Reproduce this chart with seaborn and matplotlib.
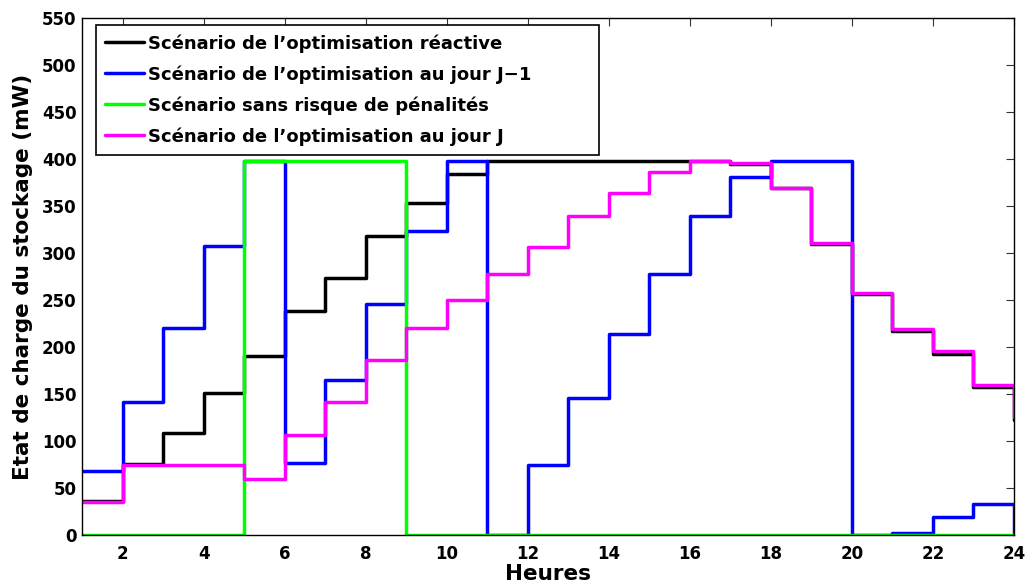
import numpy as np
import pandas as pd
import matplotlib
matplotlib.use("Agg")
import matplotlib.pyplot as plt
import seaborn as sns

sns.set_theme(style="white")
plt.rcParams["font.family"] = ["DejaVu Sans"]
plt.rcParams["font.weight"] = "bold"
for key in ("text.color", "axes.labelcolor", "xtick.labelcolor",
            "ytick.labelcolor"):
    plt.rcParams[key] = "black"

# Hours of the day
hours = list(range(1, 25))

# State of charge of the storage (mW) for each scenario, one value per hour
reactive = [36, 76, 109, 151, 191, 238, 274, 318, 353, 384, 398, 398,
            398, 398, 398, 398, 395, 369, 310, 257, 217, 193, 157, 122]
day_ahead = [68, 142, 220, 308, 398, 77, 165, 246, 324, 398, 0, 74,
             146, 214, 278, 340, 381, 398, 398, 0, 2, 19, 33, 0]
no_penalty = [0, 0, 0, 0, 398, 398, 398, 398, 0, 0, 0, 0,
              0, 0, 0, 0, 0, 0, 0, 0, 0, 0, 0, 0]
same_day = [35, 75, 75, 75, 60, 106, 142, 186, 220, 250, 278, 307,
            340, 364, 386, 398, 396, 369, 311, 258, 219, 196, 160, 126]

labels = [
    "Scénario de l\u2019optimisation réactive",
    "Scénario de l\u2019optimisation au jour J\u22121",
    "Scénario sans risque de pénalités",
    "Scénario de l\u2019optimisation au jour J",
]
colors = ["#000000", "#0000ff", "#00ff00", "#ff00ff"]
series = [reactive, day_ahead, no_penalty, same_day]

df = pd.concat(
    [pd.DataFrame({"Heure": hours, "Charge": vals, "Scénario": lab})
     for lab, vals in zip(labels, series)],
    ignore_index=True,
)

fig = plt.figure(figsize=(10.29, 5.86), dpi=100)
ax = fig.add_axes([0.0797, 0.087, 0.9057, 0.882])

sns.lineplot(
    data=df, x="Heure", y="Charge", hue="Scénario", hue_order=labels,
    palette=dict(zip(labels, colors)), estimator=None, sort=False,
    drawstyle="steps-post", linewidth=2.5, ax=ax, legend=True,
)

ax.set_xlim(1, 24)
ax.set_ylim(0, 550)
ax.set_xticks(range(2, 25, 2))
ax.set_yticks(range(0, 551, 50))
ax.tick_params(axis="both", which="major", direction="in", length=6,
               width=0.8, top=True, right=True, labelsize=12,
               color="#333333", labelcolor="black")
ax.tick_params(axis="x", pad=7)
ax.tick_params(axis="y", pad=4)
for lab in ax.get_xticklabels() + ax.get_yticklabels():
    lab.set_fontweight("bold")
for sp in ax.spines.values():
    sp.set_color("black")
    sp.set_linewidth(1.0)

ax.set_xlabel("Heures", fontsize=15.5, fontweight="bold", labelpad=1)
ax.set_ylabel("Etat de charge du stockage (mW)", fontsize=15.5,
              fontweight="bold", labelpad=6)

handles, _ = ax.get_legend_handles_labels()
leg = ax.legend(handles, labels, loc="upper left",
                bbox_to_anchor=(0.015, 0.5, 0.5397, 0.4865), mode="expand",
                fancybox=False, framealpha=1, edgecolor="black",
                borderaxespad=0, prop={"size": 13, "weight": "bold"},
                handlelength=2.16, handletextpad=0.22, labelspacing=0.69,
                borderpad=0.5)
leg.get_frame().set_linewidth(1.2)
for h in leg.get_lines():
    h.set_linewidth(2.5)

fig.savefig("out.png", dpi=100)
